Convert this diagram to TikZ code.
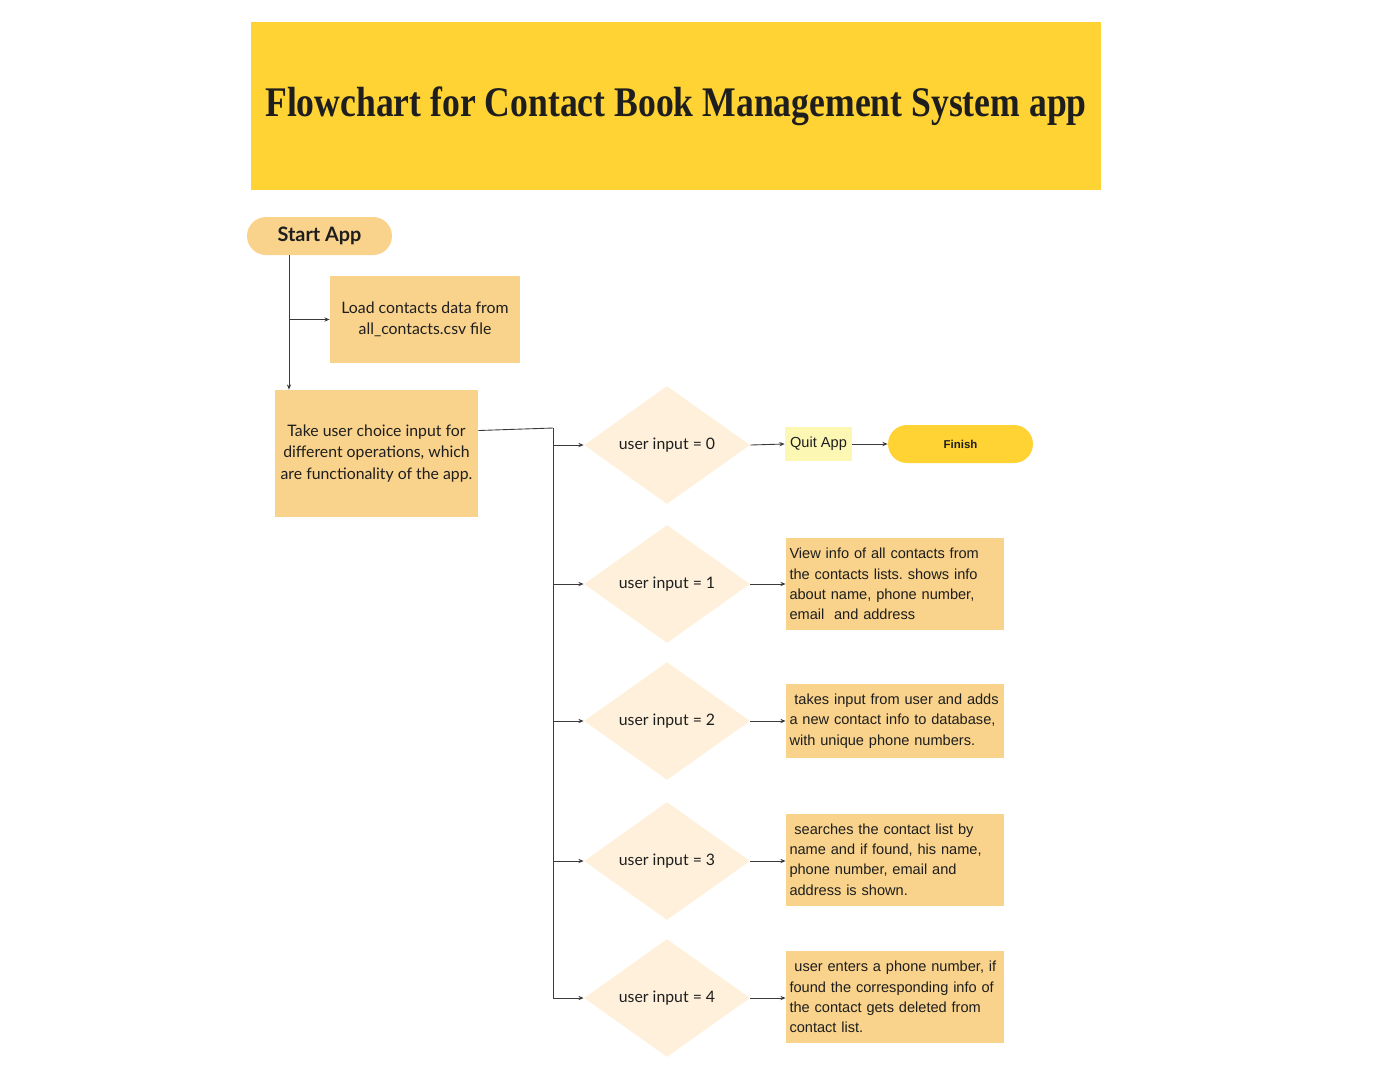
\documentclass[tikz,border=0pt]{standalone}
\usepackage{fontspec}
\setmainfont{Lato}
\newfontfamily\titlefont{Liberation Serif}
\newfontfamily\arialfont{Liberation Sans}
\usetikzlibrary{shapes.geometric,arrows.meta}
\frenchspacing

\definecolor{titleyellow}{HTML}{FFD333}
\definecolor{boxorange}{HTML}{F9D38B}
\definecolor{diamondcream}{HTML}{FEF0DA}
\definecolor{quityellow}{HTML}{FDF7B4}
\definecolor{linegray}{HTML}{3A3A3A}
\definecolor{inkdark}{HTML}{1E1E1E}

\begin{document}
\begin{tikzpicture}[x=0.02cm, y=-0.02cm,
  every node/.style={text=inkdark},
  arr/.style={-{Stealth[length=3pt,width=2.4pt]}, linegray, line width=0.5pt},
  link/.style={linegray, line width=0.5pt},
  stepbox/.style={rectangle, fill=boxorange, inner sep=0pt, align=center, font=\fontsize{9}{12}\selectfont},
  infobox/.style={rectangle, fill=boxorange, minimum width=4.36cm, minimum height=1.84cm, text width=4.22cm, align=left, inner sep=0.07cm, font=\arialfont\fontsize{8.3}{11.6}\selectfont},
  choicediamond/.style={diamond, fill=diamondcream, minimum width=3.32cm, minimum height=2.36cm, inner sep=0pt, font=\fontsize{9}{11}\selectfont},
  terminal/.style={rectangle, rounded corners=0.38cm, minimum width=2.9cm, minimum height=0.76cm, inner sep=0pt}]
\useasboundingbox (0,0) rectangle (1375,1080);

% title banner
\node[rectangle, fill=titleyellow, minimum width=17cm, minimum height=3.36cm] (title) at (676,106)
  {\titlefont\bfseries\fontsize{24}{28}\selectfont\scalebox{0.845}[1]{Flowchart for Contact Book Management System app}};

% start and setup
\node[terminal, fill=boxorange, font=\bfseries\fontsize{11.3}{14}\selectfont] (start) at (319.5,236) {Start App};
\node[stepbox, minimum width=3.8cm, minimum height=1.74cm] (load) at (425,319.5) {Load contacts data from\\all\_contacts.csv file};
\node[stepbox, minimum width=4.06cm, minimum height=2.54cm] (choice) at (376.5,453.5) {Take user choice input for\\different operations, which\\are functionality of the app.};

% decisions
\node[choicediamond] (d0) at (667,445) {user input = 0};
\node[choicediamond] (d1) at (667,584) {user input = 1};
\node[choicediamond] (d2) at (667,721) {user input = 2};
\node[choicediamond] (d3) at (667,861) {user input = 3};
\node[choicediamond] (d4) at (667,998) {user input = 4};

% outcomes
\node[rectangle, fill=quityellow, minimum width=1.34cm, minimum height=0.68cm, inner sep=0pt, font=\arialfont\fontsize{8.3}{10}\selectfont] (quit) at (818.5,444) {Quit App};
\node[terminal, fill=titleyellow, font=\arialfont\bfseries\fontsize{6.5}{8}\selectfont] (finish) at (960.5,444) {Finish};
\node[infobox] (info1) at (895,584) {View info of all contacts from\\the contacts lists. shows info\\about name, phone number,\\email\ \ and address};
\node[infobox, minimum height=1.48cm] (info2) at (895,721) {\ takes input from user and adds\\a new contact info to database,\\with unique phone numbers.};
\node[infobox] (info3) at (895,859.5) {\ searches the contact list by\\name and if found, his name,\\phone number, email and\\address is shown.};
\node[infobox] (info4) at (895,997) {\ user enters a phone number, if\\found the corresponding info of\\the contact gets deleted from\\contact list.};

% connectors
\draw[arr] ([xshift=-0.61cm]start.south) -- ([xshift=-0.61cm]start.south |- choice.north);
\draw[arr] ([xshift=-0.61cm]start.south |- load.west) -- (load.west);
\coordinate (bus) at (553,428);
\draw[link] ([yshift=0.46cm]choice.east) -- (bus);
\draw[arr] (bus) -- (bus |- d4) -- (d4.west);
\draw[arr] (bus |- d0) -- (d0.west);
\draw[arr] (bus |- d1) -- (d1.west);
\draw[arr] (bus |- d2) -- (d2.west);
\draw[arr] (bus |- d3) -- (d3.west);
\draw[arr] (d0.east) -- (quit.west);
\draw[arr] (quit.east) -- (finish.west);
\draw[arr] (d1.east) -- (d1.east -| info1.west);
\draw[arr] (d2.east) -- (d2.east -| info2.west);
\draw[arr] (d3.east) -- (d3.east -| info3.west);
\draw[arr] (d4.east) -- (d4.east -| info4.west);
\end{tikzpicture}
\end{document}
